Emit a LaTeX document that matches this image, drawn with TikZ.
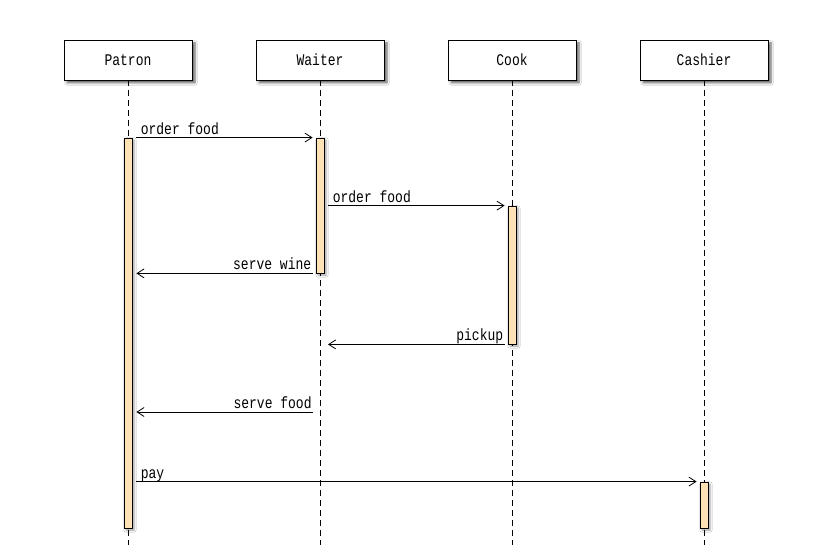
\documentclass[tikz,border=0pt]{standalone}
\usepackage{fontspec}
\setmainfont{Liberation Mono}
\usetikzlibrary{arrows.meta,shadows.blur,calc}
\definecolor{barfill}{HTML}{FFE2B4}
\newcommand\tallt[1]{\scalebox{1}[1.25]{#1}}
\begin{document}
\begin{tikzpicture}[x=1pt,y=-1pt,
  font=\fontsize{13}{15}\selectfont,
  actor/.style={draw, line width=0.8pt, fill=white, minimum width=128pt, minimum height=40pt, inner sep=0pt,
    blur shadow={shadow xshift=3pt, shadow yshift=-3pt, shadow blur steps=6, shadow opacity=60}},
  life/.style={line width=0.8pt, dash pattern=on 6pt off 4pt},
  actbar/.style={draw, line width=0.8pt, fill=barfill, minimum width=8pt, inner sep=0pt,
    blur shadow={shadow xshift=2pt, shadow yshift=-2pt, shadow blur steps=4, shadow opacity=40}},
  msg/.style={line width=0.8pt, -{Straight Barb[length=7pt,width=9pt,line width=0.8pt]}},
  lblr/.style={at start, anchor=base west, inner sep=0pt, xshift=4pt, yshift=3.5pt},
  lbll/.style={at start, anchor=base east, inner sep=0pt, xshift=-1pt, yshift=3.5pt}]
\useasboundingbox (0,0) rectangle (832,556);
\fill[white] (0,0) rectangle (832,556);

% lifelines
\coordinate (patronEnd) at (128,545);
\coordinate (waiterEnd) at (320,545);
\coordinate (cookEnd) at (512,545);
\coordinate (cashierEnd) at (704,545);
\coordinate (patronTop) at (128,80);
\coordinate (waiterTop) at (320,80);
\coordinate (cookTop) at (512,80);
\coordinate (cashierTop) at (704,80);
\draw[life] (patronTop) -- (patronEnd);
\draw[life] (waiterTop) -- (waiterEnd);
\draw[life] (cookTop) -- (cookEnd);
\draw[life] (cashierTop) -- (cashierEnd);

% actors
\node[actor] (patron) at (128,60) {\tallt{Patron}};
\node[actor] (waiter) at (320,60) {\tallt{Waiter}};
\node[actor] (cook) at (512,60) {\tallt{Cook}};
\node[actor] (cashier) at (704,60) {\tallt{Cashier}};

% activation bars
\node[actbar, minimum height=390pt] (pA) at (128,333) {};
\node[actbar, minimum height=135pt] (wA) at (320,205.5) {};
\node[actbar, minimum height=138pt] (cA) at (512,275) {};
\node[actbar, minimum height=46pt] (chA) at (704,505) {};

% message levels
\coordinate (m5) at (0,412);

% messages
\draw[msg] ([xshift=4pt]pA.east |- wA.north) -- ([xshift=-3pt]wA.west |- wA.north)
  node[lblr] {\tallt{order food}};
\draw[msg] ([xshift=4pt]wA.east |- cA.north) -- ([xshift=-3pt]cA.west |- cA.north)
  node[lblr] {\tallt{order food}};
\draw[msg] ([xshift=-3pt]wA.west |- wA.south) -- ([xshift=4pt]pA.east |- wA.south)
  node[lbll] {\tallt{serve wine}};
\draw[msg] ([xshift=-3pt]cA.west |- cA.south) -- ([xshift=8pt]waiterEnd |- cA.south)
  node[lbll] {\tallt{pickup}};
\draw[msg] ([xshift=-7pt]waiterEnd |- m5) -- ([xshift=4pt]pA.east |- m5)
  node[lbll] {\tallt{serve food}};
\draw[msg] ([xshift=4pt]pA.east |- chA.north) -- ([xshift=-3pt]chA.west |- chA.north)
  node[lblr] {\tallt{pay}};
\end{tikzpicture}
\end{document}
